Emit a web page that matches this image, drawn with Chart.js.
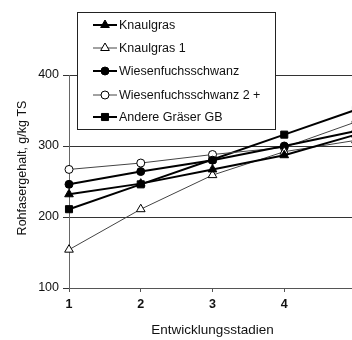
<!DOCTYPE html>
<html>
<head>
<meta charset="utf-8">
<script src="https://cdn.jsdelivr.net/npm/chart.js@4.4.1/dist/chart.umd.min.js"></script>
<style>
  html, body { margin: 0; padding: 0; background: #fff; overflow: hidden; width: 352px; height: 340px; }
  canvas { display: block; }
</style>
</head>
<body>
<canvas id="chart" width="366" height="340"></canvas>
<script>
// Entwicklungsstadien (x) – stage 5 sits just past the right edge of the picture
const stages = ['1', '2', '3', '4', '5'];

const seriesNames = ['Knaulgras', 'Knaulgras 1', 'Wiesenfuchsschwanz', 'Wiesenfuchsschwanz 2 +', 'Andere Gräser GB'];

// Rohfasergehalt, g/kg TS
const knaulgras = [232, 247, 267, 287, 316];
const knaulgras1 = [154, 211, 259, 292, 308];
const wiesenfuchsschwanz = [246, 264, 280, 300, 321];
const wiesenfuchsschwanz2 = [267, 276, 288, 298, 334];
const andereGraeser = [211, 246, 281, 316, 351];

const yMin = 100, yMax = 400, yStep = 100;
const yTitle = 'Rohfasergehalt, g/kg TS';

const FONT = "'Liberation Sans', Arial, sans-serif";

function series(label, data, style, filled, thick) {
  return {
    label: label,
    data: data,
    borderColor: thick ? '#000' : '#444',
    borderWidth: thick ? 2 : 1,
    pointStyle: style,
    pointRadius: style === 'circle' ? 4 : 5,
    pointBackgroundColor: filled ? '#000' : '#fff',
    pointBorderColor: '#000',
    pointBorderWidth: 1,
    tension: 0,
    fill: false
  };
}

// legend box drawn on top of the grid, like in the printed figure
const boxLegend = {
  id: 'boxLegend',
  afterDatasetsDraw(chart) {
    const ctx = chart.ctx;
    const left = 77, top = 12, right = 275, bottom = 129;
    ctx.save();
    ctx.fillStyle = '#fff';
    ctx.fillRect(left, top, right - left, bottom - top);
    ctx.strokeStyle = '#222';
    ctx.lineWidth = 1;
    ctx.strokeRect(left + 0.5, top + 0.5, right - left, bottom - top);
    const rows = [25, 48, 71, 95, 117];
    chart.data.datasets.forEach((ds, i) => {
      const y = rows[i];
      ctx.strokeStyle = ds.borderColor;
      ctx.lineWidth = ds.borderWidth;
      ctx.beginPath();
      ctx.moveTo(93, y);
      ctx.lineTo(117, y);
      ctx.stroke();
      ctx.fillStyle = ds.pointBackgroundColor;
      ctx.strokeStyle = ds.pointBorderColor;
      ctx.lineWidth = 1;
      Chart.helpers.drawPoint(ctx, {
        pointStyle: ds.pointStyle,
        radius: ds.pointRadius,
        rotation: 0,
        borderWidth: 1
      }, 105, y);
      ctx.fillStyle = '#111';
      ctx.font = '12.5px ' + FONT;
      ctx.textBaseline = 'middle';
      ctx.textAlign = 'left';
      ctx.fillText(ds.label, 119, y + 1);
    });
    ctx.restore();
  }
};

// y axis title sits a bit above the middle of the axis in the original
const yAxisTitle = {
  id: 'yAxisTitle',
  afterDraw(chart) {
    const ctx = chart.ctx;
    ctx.save();
    ctx.translate(23, 168);
    ctx.rotate(-Math.PI / 2);
    ctx.fillStyle = '#111';
    ctx.font = '12.5px ' + FONT;
    ctx.textAlign = 'center';
    ctx.textBaseline = 'middle';
    ctx.fillText(yTitle, 0, 0);
    ctx.restore();
  }
};

new Chart(document.getElementById('chart'), {
  type: 'line',
  data: {
    labels: stages,
    datasets: [
      series(seriesNames[0], knaulgras, 'triangle', true, true),
      series(seriesNames[1], knaulgras1, 'triangle', false, false),
      series(seriesNames[2], wiesenfuchsschwanz, 'circle', true, true),
      series(seriesNames[3], wiesenfuchsschwanz2, 'circle', false, false),
      series(seriesNames[4], andereGraeser, 'rect', true, true)
    ]
  },
  options: {
    responsive: false,
    animation: false,
    layout: { padding: { top: 75, right: 10, bottom: 0, left: 0 } },
    plugins: {
      legend: { display: false },
      tooltip: { enabled: false }
    },
    scales: {
      x: {
        offset: false,
        afterFit(scale) { scale.height = 52; },
        border: { color: '#555', width: 1 },
        grid: { drawOnChartArea: false, drawTicks: true, tickLength: 4, color: '#555' },
        ticks: { color: '#111', font: { family: FONT, size: 12.5, weight: 'bold' }, padding: 5, maxRotation: 0 },
        title: {
          display: true,
          text: 'Entwicklungsstadien',
          color: '#111',
          font: { family: FONT, size: 13.5 },
          padding: { top: 0, bottom: 2 }
        }
      },
      y: {
        min: yMin,
        max: yMax,
        afterFit(scale) { scale.width = 69; },
        border: { color: '#666', width: 1 },
        grid: { color: '#333', lineWidth: 1, tickLength: 6 },
        ticks: { stepSize: yStep, color: '#111', font: { family: FONT, size: 12.5 }, padding: 4 }
      }
    }
  },
  plugins: [boxLegend, yAxisTitle]
});
</script>
</body>
</html>
